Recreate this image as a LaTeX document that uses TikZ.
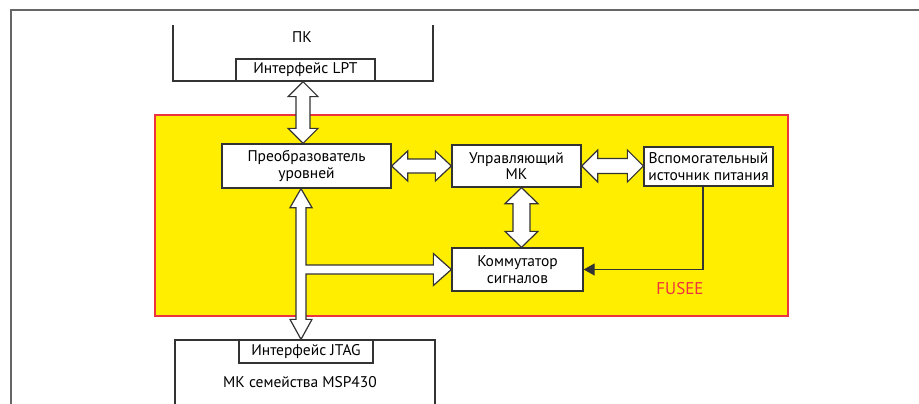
\documentclass[tikz,border=0pt]{standalone}
\usepackage{fontspec}
\setmainfont{PT Sans}
\usetikzlibrary{calc,arrows.meta}
\definecolor{fy}{HTML}{FFEE00}
\definecolor{fr}{HTML}{EE3340}
\definecolor{ln}{HTML}{333333}
\definecolor{fg}{HTML}{666666}
\tikzset{
 box/.style={draw=ln,line width=1.3pt,fill=white,align=center,font=\fontsize{15.5}{16.5}\selectfont,inner sep=0pt},
 lbl/.style={font=\fontsize{15.5}{16.5}\selectfont,inner sep=0pt},
 barrow/.style={draw=ln,line width=1.2pt,fill=white,line join=miter},
 fusee/.style={draw=fr,fill=fy,line width=1.4pt,inner sep=0pt},
 wire/.style={draw=ln,line width=1.3pt},
 frame/.style={draw=fg,line width=2pt}
}
\newcommand\vdbl[5]{\draw[barrow] let \p1=#1, \p2=#2 in (\x1,\y1) -- (\x1+#4,\y1-#5) -- (\x1+#3,\y1-#5) -- (\x1+#3,\y2+#5) -- (\x1+#4,\y2+#5) -- (\x1,\y2) -- (\x1-#4,\y2+#5) -- (\x1-#3,\y2+#5) -- (\x1-#3,\y1-#5) -- (\x1-#4,\y1-#5) -- cycle;}
\newcommand\hdbl[5]{\draw[barrow] let \p1=#1, \p2=#2 in (\x1,\y1) -- (\x1+#5,\y1+#4) -- (\x1+#5,\y1+#3) -- (\x2-#5,\y1+#3) -- (\x2-#5,\y1+#4) -- (\x2,\y1) -- (\x2-#5,\y1-#4) -- (\x2-#5,\y1-#3) -- (\x1+#5,\y1-#3) -- (\x1+#5,\y1-#4) -- cycle;}
\begin{document}
\begin{tikzpicture}[x=1pt,y=-1pt]
\useasboundingbox (0,0) rectangle (919,404);
% outer frame
\draw[frame] (11,404) -- (11,10) -- (919,10);
% FUSEE area
\node[fusee,minimum width=633pt,minimum height=201pt] (fus) at (471.5,215.5) {};
\node[lbl,text=fr,font=\fontsize{17}{18}\selectfont] (fl) at (680,289) {FUSEE};
% PC bracket
\draw[wire] (173,25) -- (173,81) -- (433,81) -- (433,25);
\node[lbl] (pk) at (302,37) {ПК};
% MSP bracket
\draw[wire] (175,404) -- (175,340) -- (435,340) -- (435,404);
\node[lbl] (msp) at (300,382) {МК семейства MSP430};
% boxes
\node[box,minimum width=169pt,minimum height=44pt] (pr) at (306.5,166) {Преобразователь\\уровней};
\node[box,minimum width=129pt,minimum height=42pt] (mk) at (516.5,166) {Управляющий\\МК};
\node[box,minimum width=129pt,minimum height=39pt] (vs) at (708.5,166.5) {Вспомогательный\\источник питания};
\node[box,minimum width=131pt,minimum height=43pt] (km) at (517.5,269.5) {Коммутатор\\сигналов};
\node[box,minimum width=139pt,minimum height=22pt] (lpt) at (305.5,70) {Интерфейс LPT};
\node[box,minimum width=134pt,minimum height=23pt] (jtag) at (306,351.5) {Интерфейс JTAG};
% block arrows
\vdbl{([xshift=-2.5pt]lpt.south)}{(pr.north)}{7pt}{15pt}{15pt}
\hdbl{(pr.east)}{(mk.west)}{7pt}{15pt}{16pt}
\hdbl{(mk.east)}{(vs.west)}{7.5pt}{16pt}{16pt}
\vdbl{([xshift=5pt]mk.south)}{(km.north)}{8.5pt}{16.5pt}{16pt}
\draw[barrow] let \p1=([xshift=-5.5pt]pr.south), \p2=(jtag.north), \p3=(km.west) in
 (\x1,\y1) -- (\x1+11pt,\y1-19pt) -- (\x1+5pt,\y1-19pt) -- (\x1+5pt,\y3+4.5pt)
 -- (\x3-18pt,\y3+4.5pt) -- (\x3-18pt,\y3+16pt) -- (\x3,\y3) -- (\x3-18pt,\y3-16pt)
 -- (\x3-18pt,\y3-4.5pt) -- (\x1+5pt,\y3-4.5pt) -- (\x1+5pt,\y2+20pt) -- (\x1+11pt,\y2+20pt)
 -- (\x1,\y2) -- (\x1-11pt,\y2+20pt) -- (\x1-5pt,\y2+20pt) -- (\x1-5pt,\y1-19pt)
 -- (\x1-11pt,\y1-19pt) -- cycle;
% power line
\draw[wire,-{Triangle[length=11pt,width=12pt]}] ([xshift=-5.5pt]vs.south) |- (km.east);
\end{tikzpicture}
\end{document}
